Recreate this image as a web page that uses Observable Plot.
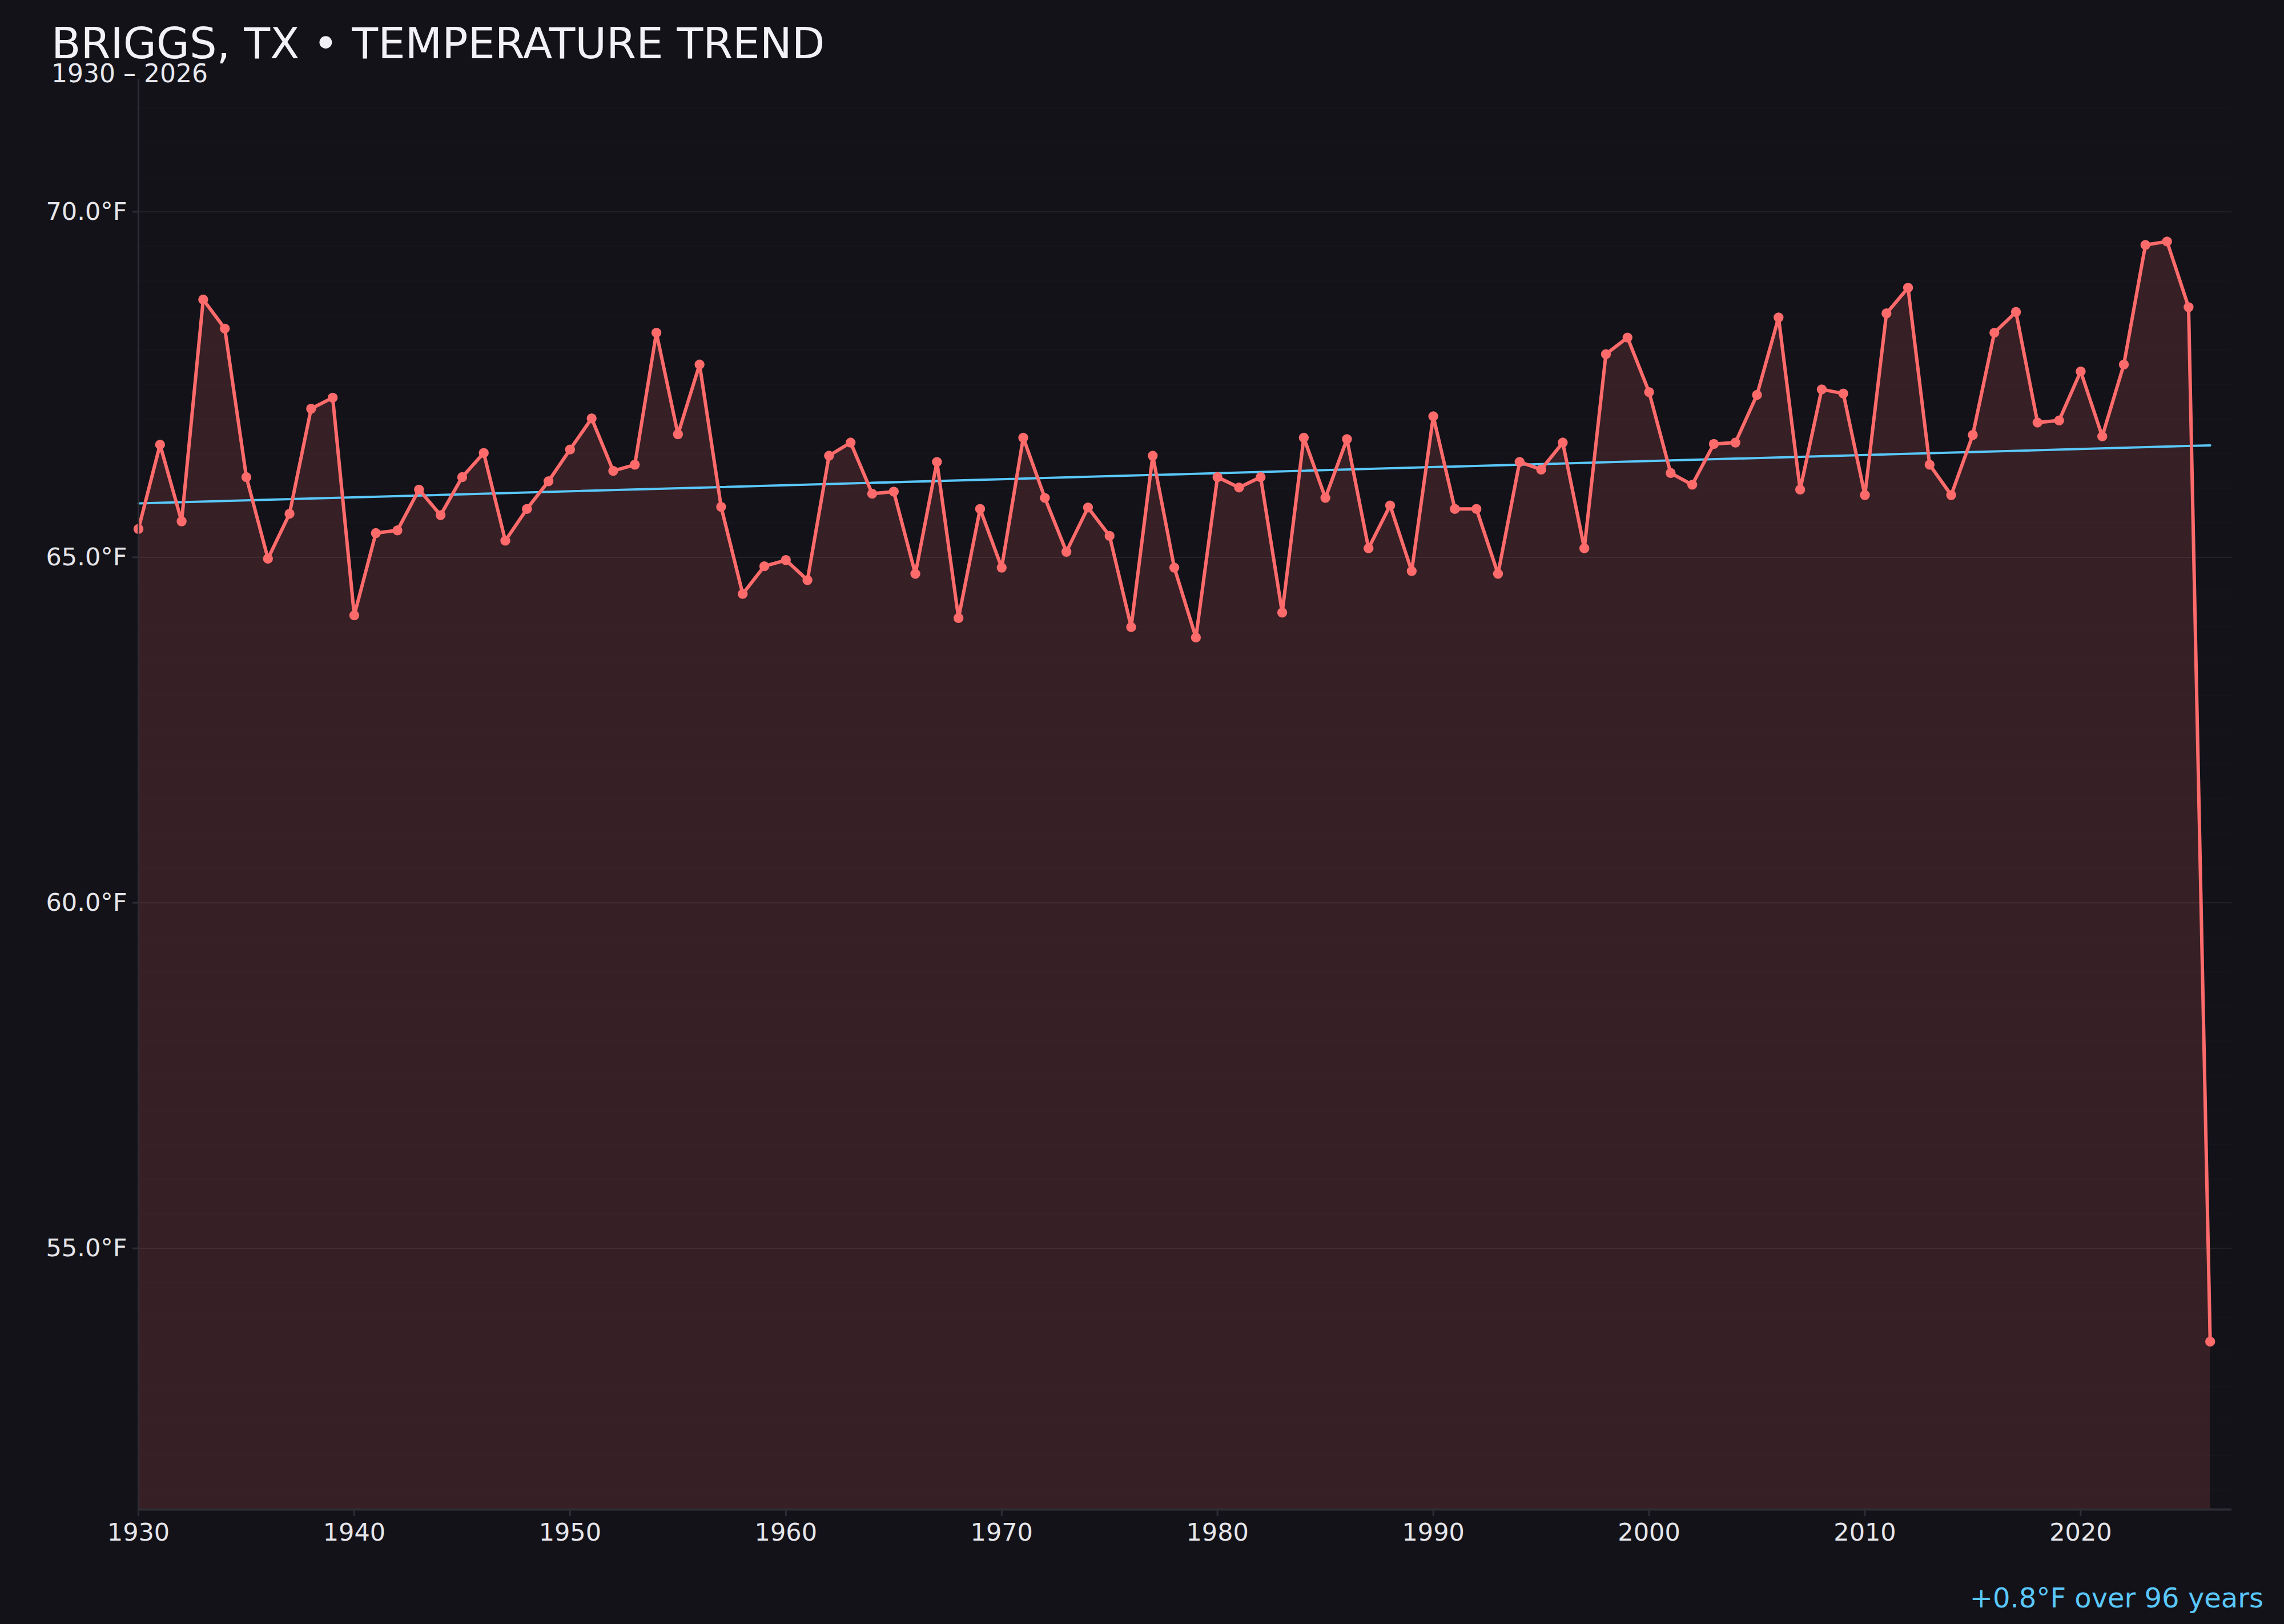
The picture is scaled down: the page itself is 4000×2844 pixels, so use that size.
<!DOCTYPE html>
<html>
<head>
<meta charset="utf-8">
<script src="https://cdn.jsdelivr.net/npm/d3@7"></script>
<script src="https://cdn.jsdelivr.net/npm/@observablehq/plot@0.6"></script>
<style>
  html, body { margin: 0; padding: 0; background: #131219; }
  #wrap { position: relative; width: 4000px; height: 2844px; overflow: hidden; font-family: "DejaVu Sans", sans-serif; background: #131219; }
  #chart { position: absolute; left: 0; top: 0; }
  #title { position: absolute; left: 90px; top: 46px; font-size: 75px; line-height: 60px; color: #f2f2f6; white-space: nowrap; }
  #subtitle { position: absolute; left: 90px; top: 109px; font-size: 44px; line-height: 40px; color: #e8e8ee; white-space: nowrap; }
  #caption { position: absolute; right: 36px; top: 2774px; font-size: 48px; line-height: 1; color: #5ac8fa; white-space: nowrap; }
</style>
</head>
<body>
<div id="wrap">
  <div id="chart"></div>
  <div id="title">BRIGGS, TX • TEMPERATURE TREND</div>
  <div id="subtitle">1930 – 2026</div>
  <div id="caption">+0.8°F over 96 years</div>
</div>
<script>
// ---- data ----
const years = d3.range(1930, 2027);
const temps = [
  65.41, 66.63, 65.52, 68.73, 68.31, 66.16, 64.98, 65.63, 67.15, 67.31,
  64.16, 65.35, 65.39, 65.98, 65.61, 66.16, 66.51, 65.24, 65.70, 66.10,
  66.56, 67.01, 66.25, 66.34, 68.25, 66.78, 67.79, 65.73, 64.47, 64.87,
  64.96, 64.67, 66.47, 66.66, 65.92, 65.95, 64.76, 66.38, 64.12, 65.70,
  64.85, 66.73, 65.86, 65.08, 65.72, 65.31, 63.99, 66.47, 64.85, 63.84,
  66.16, 66.01, 66.16, 64.20, 66.73, 65.86, 66.71, 65.13, 65.75, 64.80,
  67.04, 65.70, 65.70, 64.76, 66.38, 66.27, 66.66, 65.13, 67.94, 68.18,
  67.39, 66.22, 66.05, 66.64, 66.66, 67.35, 68.47, 65.98, 67.43, 67.37,
  65.90, 68.53, 68.90, 66.34, 65.90, 66.77, 68.25, 68.55, 66.95, 66.98,
  67.69, 66.75, 67.79, 69.52, 69.57, 68.62, 53.65
];
const trendYears = [1930, 2026];
const trendTemps = [65.78, 66.62];
const xTicks = [1930, 1940, 1950, 1960, 1970, 1980, 1990, 2000, 2010, 2020];
const yTicks = [55, 60, 65, 70];
const xDomain = [1930, 2027];
const yDomain = [51.22, 71.92];
const minorGrid = d3.range(51.5, 72, 0.5);

const data = years.map((year, i) => ({year, temp: temps[i]}));
const trend = trendYears.map((year, i) => ({year, temp: trendTemps[i]}));

const lineColor = "#ff6b6b";
const trendColor = "#5ac8fa";
const axisColor = "#2e2d35";
const textColor = "#e6e6ea";

const chart = Plot.plot({
  width: 4000,
  height: 2744,
  marginLeft: 242,
  marginRight: 92,
  marginTop: 138,
  marginBottom: 101,
  style: { background: "transparent", color: textColor, fontFamily: "DejaVu Sans, sans-serif", fontSize: "43px" },
  x: { domain: xDomain, label: null },
  y: { domain: yDomain, label: null },
  marks: [
    Plot.ruleY(minorGrid, { stroke: "#ffffff", strokeOpacity: 0.014, strokeWidth: 2 }),
    Plot.ruleY(yTicks, { stroke: "#ffffff", strokeOpacity: 0.055, strokeWidth: 2 }),
    Plot.areaY(data, { x: "year", y1: yDomain[0], y2: "temp", fill: lineColor, fillOpacity: 0.15 }),
    Plot.line(trend, { x: "year", y: "temp", stroke: trendColor, strokeWidth: 4 }),
    Plot.line(data, { x: "year", y: "temp", stroke: lineColor, strokeWidth: 6 }),
    Plot.dot(data, { x: "year", y: "temp", r: 8.7, fill: lineColor }),
    Plot.ruleX([xDomain[0]], { stroke: axisColor, strokeWidth: 3 }),
    Plot.ruleY([yDomain[0]], { stroke: axisColor, strokeWidth: 4 }),
    Plot.axisY({ ticks: yTicks, tickFormat: d => d.toFixed(1) + "°F", tickSize: 10, tickPadding: 10,
                 stroke: axisColor, strokeWidth: 3, fill: textColor, fontSize: 43, label: null }),
    Plot.axisX({ ticks: xTicks, tickFormat: d => String(d), tickSize: 12, tickPadding: 12,
                 stroke: axisColor, strokeWidth: 3, fill: textColor, fontSize: 43, label: null })
  ]
});
document.getElementById("chart").appendChild(chart);
</script>
</body>
</html>
